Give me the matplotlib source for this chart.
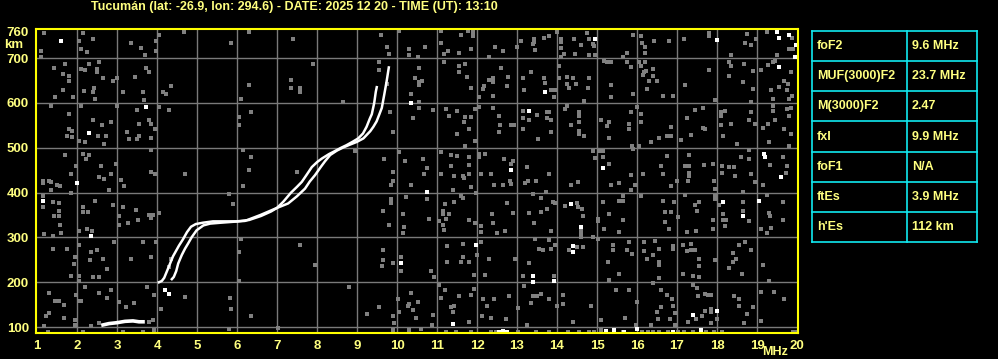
"""Ionogram - Tucuman 2025-12-20 13:10 UT."""
import numpy as np
import matplotlib
matplotlib.use("Agg")
import matplotlib.pyplot as plt

plt.rcParams["font.family"] = ["Liberation Sans", "DejaVu Sans"]
plt.rcParams["font.weight"] = "bold"

TITLE = "Tucumán (lat: -26.9, lon: 294.6) - DATE: 2025 12 20 - TIME (UT): 13:10"
YELLOW = "#ffff80"
CYAN = "#10e8f0"
GRID = "#7a7a7a"
SPECK = "#808080"

freq_ticks = list(range(1, 21))
height_ticks = [100, 200, 300, 400, 500, 600, 700]

# ordinary trace (F layer)
o_freq = [4.02, 4.12, 4.18, 4.24, 4.30, 4.40, 4.55, 4.65, 4.75, 4.85, 4.97, 5.15, 5.40,
          5.70, 6.00, 6.30, 6.60, 6.85, 7.00, 7.16, 7.35, 7.50, 7.62, 7.75, 7.87, 8.00,
          8.12, 8.30, 8.41, 8.60, 8.74, 8.90, 9.03, 9.15, 9.24, 9.32, 9.37, 9.43, 9.47, 9.50]
o_height = [199, 203, 210, 223, 236, 258, 282, 296, 312, 324, 330, 333, 336,
            336, 336, 339, 348, 358, 366, 380, 400, 413, 424, 441, 457, 468,
            476, 486, 491, 500, 506, 514, 521, 532, 547, 565, 575, 600, 625, 638]

# extraordinary trace
x_freq = [4.35, 4.42, 4.48, 4.53, 4.62, 4.70, 4.78, 4.87, 4.99, 5.16, 5.33, 5.60, 5.90,
          6.20, 6.58, 7.00, 7.28, 7.50, 7.70, 7.82, 7.95, 8.10, 8.20, 8.33, 8.50, 8.66,
          8.82, 8.99, 9.16, 9.33, 9.41, 9.49, 9.56, 9.62, 9.68, 9.74, 9.80]
x_height = [205, 212, 225, 242, 261, 275, 287, 301, 316, 327, 331, 333, 335,
            337, 350, 366, 376, 392, 409, 425, 439, 458, 470, 484, 494, 501,
            507, 513, 521, 537, 547, 559, 575, 589, 618, 648, 682]

# sporadic E
es_freq = [2.65, 2.80, 3.00, 3.20, 3.40, 3.55, 3.65]
es_height = [105, 108, 110, 113, 114, 112, 112]

# background interference specks (freq MHz, height km)
grey_specks = [
    (1.18, 756), (2.14, 756), (2.04, 739), (2.39, 743), (2.24, 714), (2.1, 720), (3.35, 734),
    (3.6, 722), (3.71, 707), (3.98, 739), (4.06, 752), (3.98, 717), (1.1, 717), (1.1, 702),
    (4.68, 758), (5.85, 734),
    (1.71, 687), (1.43, 677), (2.1, 676), (2.31, 688), (2.49, 676), (2.49, 670), (2.54, 692),
    (2.21, 673), (1.64, 665), (1.81, 661), (1.79, 650), (1.64, 630), (1.46, 613), (1.89, 613),
    (2.18, 626), (2.43, 633), (2.39, 624), (2.46, 609), (2.64, 656), (2.89, 648), (2.99, 656),
    (3.45, 657), (3.14, 625), (3.64, 625), (3.68, 607), (3.73, 677), (3.81, 670), (4.14, 625),
    (4.23, 620), (4.35, 637),
    (1.35, 594), (1.79, 576), (1.79, 542), (1.88, 538), (1.74, 527), (1.88, 524), (2.1, 594),
    (2.39, 563), (2.52, 526), (2.63, 551), (2.73, 527), (2.85, 558), (2.68, 509), (2.06, 515),
    (2.21, 514), (2.99, 593), (3.24, 536), (3.31, 520), (3.49, 520), (3.49, 585), (3.54, 526),
    (3.54, 553), (3.81, 561), (3.85, 553), (3.85, 522), (3.96, 541), (4.04, 590), (4.31, 585),
    (1.7, 484), (1.98, 460), (2.14, 487), (2.29, 485), (2.23, 474), (2.6, 460), (2.56, 434),
    (2.68, 431), (2.85, 442), (2.98, 464), (2.79, 405), (3.1, 429), (3.18, 414), (3.85, 496),
    (3.85, 447), (3.96, 442), (4.71, 442), (1.14, 427), (1.14, 422), (1.35, 423), (1.31, 427),
    (1.49, 418), (1.58, 414), (1.85, 442), (1.35, 407), (1.85, 399),
    (1.14, 393), (1.14, 369), (1.39, 379), (1.54, 377), (1.54, 360), (1.43, 349), (1.54, 349),
    (1.58, 327), (1.6, 310), (2.04, 315), (2.14, 367), (2.14, 356), (2.27, 356), (2.46, 382),
    (2.91, 373), (3.04, 349), (3.04, 327), (3.16, 369), (3.27, 333), (3.48, 362), (3.52, 338),
    (3.81, 350), (3.89, 350), (3.85, 343), (4.04, 355), (2.25, 319), (2.38, 314), (1.18, 308),
    (1.39, 304), (5.79, 396), (5.89, 375),
    (1.39, 275), (1.74, 275), (2.04, 284), (1.96, 256), (2.35, 267), (2.33, 249), (2.49, 273),
    (2.64, 252), (2.75, 230), (1.92, 241), (1.85, 214), (2.06, 215), (2.04, 204), (2.39, 211),
    (2.56, 211), (2.93, 290), (3.35, 251), (3.64, 290), (3.85, 256), (3.98, 290), (4.35, 252),
    (4.29, 234),
    (1.31, 176), (1.46, 159), (1.56, 159), (1.68, 150), (1.98, 171), (1.96, 117), (2.21, 189),
    (2.54, 176), (2.75, 165), (2.04, 159), (2.1, 159), (2.85, 183), (3.04, 156), (3.23, 145),
    (3.43, 154), (3.74, 189), (3.93, 172), (4.21, 182), (4.71, 167), (5.83, 165), (5.85, 140),
    (4.1, 140), (1.31, 132), (1.23, 126), (1.68, 120), (1.96, 104), (1.18, 102), (2.35, 102),
    (2.56, 110), (3.81, 111), (3.89, 115),
    (1.27, 89), (2.14, 90), (3.14, 89), (3.64, 89), (3.93, 93), (5.81, 96),
    (6.29, 759), (7.39, 743), (7.89, 687), (7.35, 652), (7.35, 633), (7.58, 633), (7.58, 625),
    (6.29, 640), (6.1, 609), (6.35, 581), (6.04, 568), (6.04, 550), (8.64, 603), (6.14, 496),
    (6.35, 479), (6.31, 451), (6.14, 414), (7.5, 447), (8.95, 492), (6.1, 297), (6.04, 267),
    (7.58, 284), (7.94, 239), (6.04, 204), (8.79, 189), (6.35, 126), (7.02, 99), (9.24, 130),
    (9.54, 145), (9.6, 752), (10.04, 761), (9.75, 724), (9.81, 709), (9.54, 691), (9.56, 674),
    (9.74, 642), (10.29, 720), (10.31, 707), (10.52, 702), (10.71, 724), (10.54, 677),
    (10.46, 655), (10.56, 646), (10.62, 648), (10.54, 639), (10.35, 620), (10.54, 603),
    (10.54, 588), (10.89, 585), (9.83, 581), (10.39, 566), (9.89, 536), (10.04, 490),
    (10.21, 471), (9.68, 474), (10.64, 474), (10.75, 454), (10.68, 442), (9.89, 446),
    (9.89, 427), (9.85, 417), (10.35, 417), (10.74, 385), (10.23, 391), (9.85, 386),
    (9.85, 377), (9.64, 360), (10.14, 353), (10.79, 341), (9.81, 328), (10.18, 324),
    (10.14, 310), (9.64, 273), (10.1, 256), (9.64, 249), (9.89, 243), (9.63, 237), (10.1, 226),
    (10.85, 226), (10.93, 211), (10.35, 177), (10.02, 163), (10.31, 152), (10.27, 147),
    (10.52, 156), (10.39, 139), (10.04, 133), (10.47, 120), (10.89, 127), (9.89, 124),
    (9.93, 110), (10.88, 105), (10.6, 96), (10.31, 93), (9.89, 93),
    (11.1, 761), (11.6, 752), (11.77, 761), (11.89, 758), (11.89, 749), (11.1, 734),
    (11.27, 717), (11.18, 709), (11.54, 711), (11.85, 720), (12.46, 724), (12.29, 702),
    (12.66, 717), (12.99, 724), (13.1, 739), (13.43, 743), (13.43, 736), (13.45, 719),
    (13.39, 732), (13.68, 744), (13.79, 749), (13.99, 758), (14.1, 743), (14.1, 736),
    (14.1, 722), (14.1, 702), (14.18, 709), (14.43, 743), (14.46, 709), (14.6, 729),
    (14.74, 756), (14.79, 743), (14.89, 732), (14.93, 728), (14.79, 707), (14.96, 707),
    (11.18, 692), (11.56, 683), (11.56, 670), (11.71, 687), (11.75, 657), (11.85, 633),
    (12.14, 631), (12.18, 637), (12.29, 652), (12.41, 655), (12.41, 646), (12.39, 616),
    (12.04, 613), (12.6, 678), (12.77, 659), (12.74, 637), (13.16, 655), (13.18, 629),
    (13.35, 670), (13.68, 655), (13.7, 645), (13.85, 630), (13.96, 630), (13.93, 613),
    (14.04, 683), (14.04, 655), (14.24, 657), (14.24, 642), (14.29, 633), (14.41, 655),
    (14.48, 642), (14.79, 655), (14.77, 633), (14.68, 605), (15.18, 694), (15.24, 691),
    (15.35, 691), (15.35, 639), (15.35, 613),
    (11.23, 587), (11.49, 583), (11.31, 570), (11.68, 557), (11.71, 568), (11.81, 542),
    (11.85, 568), (11.96, 587), (12.04, 590), (12.39, 588), (12.56, 572), (12.58, 551),
    (12.54, 536), (12.85, 550), (12.93, 550), (13.16, 583), (13.16, 566), (13.31, 563),
    (13.16, 542), (13.49, 573), (13.52, 520), (13.74, 581), (13.79, 581), (13.74, 566),
    (13.85, 561), (13.85, 536), (14.21, 587), (14.24, 594), (14.35, 550), (14.54, 579),
    (14.54, 572), (14.54, 557), (14.54, 531), (14.54, 538), (14.68, 527), (15.1, 563),
    (15.29, 557), (15.24, 548), (15.29, 523), (11.96, 516), (11.71, 505), (11.49, 531),
    (11.1, 490), (11.35, 483), (11.35, 459), (11.49, 481), (11.79, 479), (11.79, 462),
    (11.1, 442), (11.43, 438), (11.64, 438), (11.68, 432), (11.81, 442), (11.85, 412),
    (12.04, 486), (12.04, 479), (12.21, 486), (12.1, 442), (12.35, 442), (12.68, 475),
    (12.85, 464), (12.91, 471), (12.83, 427), (12.85, 420), (12.64, 417), (12.43, 417),
    (13.24, 457), (13.27, 427), (13.48, 427), (13.21, 422), (13.79, 442), (13.73, 402),
    (14.35, 417), (14.52, 423), (14.91, 494), (15.04, 492), (15.14, 492), (15.14, 479),
    (14.96, 477), (15.29, 464), (15.35, 416), (11.39, 405), (11.98, 399),
    (11.21, 375), (11.14, 360), (11.14, 352), (11.31, 352), (11.23, 341), (11.04, 336),
    (11.14, 327), (11.18, 316), (11.6, 393), (11.64, 387), (11.43, 379), (11.79, 338),
    (11.96, 333), (12.1, 325), (12.1, 312), (12.37, 353), (12.39, 333), (12.5, 310),
    (12.71, 315), (12.74, 377), (12.91, 355), (13.29, 355), (13.41, 396), (13.6, 388),
    (13.6, 356), (13.74, 364), (13.89, 380), (13.96, 377), (13.85, 315), (13.43, 333),
    (14.21, 370), (14.49, 377), (14.52, 367), (14.63, 364), (14.64, 347), (14.6, 301),
    (14.6, 308), (14.6, 315), (14.89, 301), (15.02, 336), (15.02, 341), (15.02, 297),
    (15.31, 353), (15.18, 319), (15.14, 379),
    (11.24, 281), (11.64, 286), (11.64, 256), (11.6, 245), (11.81, 246), (11.99, 260),
    (12.1, 290), (12.31, 252), (12.96, 252), (13.46, 297), (13.56, 275), (13.64, 271),
    (13.81, 295), (13.85, 275), (13.96, 284), (14.49, 278), (14.31, 273), (14.64, 278),
    (13.29, 243), (13.14, 214), (13.93, 215), (15.39, 284), (15.39, 271), (15.27, 245),
    (15.31, 206), (11.93, 217), (12.21, 217), (11.24, 245),
    (11.04, 193), (11.21, 184), (11.1, 165), (11.35, 145), (11.39, 133), (11.43, 147),
    (11.54, 169), (11.85, 172), (11.93, 185), (11.79, 111), (12.14, 163), (12.24, 148),
    (12.43, 163), (12.79, 169), (12.13, 125), (12.35, 120), (12.72, 119), (13.02, 142),
    (13.18, 191), (13.39, 169), (13.49, 169), (13.6, 173), (13.35, 154), (13.81, 162),
    (14.0, 147), (14.14, 172), (14.14, 152), (14.85, 148), (15.1, 115), (13.24, 105),
    (14.41, 111),
    (11.23, 90), (11.48, 90), (11.85, 90), (12.35, 89), (12.47, 90), (13.02, 90), (13.48, 89),
    (13.81, 90), (14.27, 89), (14.56, 90), (14.79, 89), (14.93, 89), (15.1, 93),
    (15.89, 752), (16.1, 749), (16.13, 734), (16.21, 724), (16.21, 711), (16.43, 739),
    (16.79, 739), (17.18, 743), (17.79, 756), (17.79, 750), (18.35, 706), (18.71, 734),
    (18.74, 754), (18.85, 729), (18.97, 743), (19.24, 758), (19.88, 746), (19.91, 720),
    (19.79, 720), (19.49, 706), (15.74, 711), (15.64, 702),
    (15.74, 692), (15.85, 680), (16.04, 691), (16.1, 682), (16.21, 692), (16.18, 668),
    (16.22, 672), (16.14, 662), (16.29, 648), (16.39, 676), (16.39, 661), (16.49, 648),
    (16.24, 631), (15.89, 620), (16.64, 616), (16.89, 616), (17.21, 640), (17.79, 674),
    (17.96, 607), (18.31, 691), (18.35, 683), (18.31, 661), (18.64, 646), (18.68, 687),
    (18.89, 672), (18.89, 631), (18.85, 603), (19.1, 674), (19.27, 685), (19.39, 691),
    (19.46, 694), (19.35, 630), (19.56, 635), (19.68, 648), (19.77, 642), (19.74, 628),
    (19.87, 616), (19.81, 609), (19.39, 609), (19.85, 670),
    (15.99, 590), (15.85, 581), (16.1, 576), (16.1, 558), (15.81, 553), (15.79, 543),
    (16.35, 512), (16.54, 523), (16.74, 527), (16.85, 546), (16.85, 527), (17.1, 518),
    (17.24, 566), (17.35, 529), (17.46, 585), (17.66, 588), (17.66, 544), (17.71, 541),
    (18.1, 581), (18.1, 570), (18.21, 583), (18.1, 550), (18.14, 527), (18.35, 553),
    (18.49, 509), (18.81, 561), (18.85, 581), (18.96, 553), (19.14, 544), (19.27, 553),
    (19.39, 593), (19.41, 583), (19.46, 563), (19.74, 587), (19.81, 572), (19.85, 588),
    (19.68, 542), (19.85, 531), (19.81, 505), (19.29, 512), (15.87, 503), (16.04, 505),
    (15.89, 497), (16.74, 481), (16.6, 460), (16.64, 442), (16.14, 442), (15.85, 440),
    (15.54, 422), (15.96, 417), (15.85, 405), (16.85, 414), (17.29, 484), (17.29, 444),
    (17.29, 437), (17.21, 460), (17.31, 460), (17.68, 462), (17.89, 464), (16.99, 427),
    (17.27, 427), (17.93, 427), (17.96, 408), (18.13, 460), (18.13, 444), (18.31, 457),
    (18.43, 457), (18.46, 438), (18.6, 479), (18.79, 496), (18.81, 474), (18.85, 442),
    (18.96, 423), (19.14, 417), (19.32, 462), (19.72, 444), (19.74, 460), (19.64, 479),
    (19.81, 503), (18.64, 402),
    (15.64, 393), (15.64, 382), (15.54, 382), (15.64, 338), (15.54, 312), (16.1, 393),
    (16.64, 382), (16.93, 379), (16.85, 356), (16.71, 356), (16.71, 334), (16.81, 319),
    (17.02, 345), (17.21, 395), (17.46, 373), (17.54, 379), (17.49, 358), (17.24, 313),
    (17.47, 315), (17.89, 340), (17.91, 320), (17.96, 385), (17.96, 392), (18.04, 373),
    (18.14, 353), (18.14, 338), (18.22, 338), (18.21, 325), (18.64, 379), (18.64, 358),
    (18.79, 336), (19.1, 319), (19.24, 395), (19.29, 355), (19.32, 347), (19.35, 321),
    (19.24, 310), (19.64, 338), (19.64, 380),
    (15.81, 290), (15.74, 271), (15.87, 263), (16.18, 290), (16.18, 269), (16.24, 252),
    (16.39, 260), (16.54, 275), (16.54, 245), (16.54, 238), (16.46, 293), (16.89, 282),
    (16.89, 275), (17.14, 284), (17.24, 269), (17.35, 271), (17.46, 271), (17.54, 252),
    (17.54, 236), (17.35, 286), (17.96, 249), (18.39, 266), (18.39, 245), (18.47, 252),
    (18.31, 232), (18.56, 284), (18.71, 290), (18.85, 271), (18.62, 219), (19.14, 239),
    (19.29, 204), (15.54, 219), (17.14, 219), (16.54, 209), (17.41, 215), (17.54, 211),
    (15.48, 182), (15.79, 182), (15.99, 157), (15.71, 120), (16.6, 184), (16.39, 199),
    (16.74, 172), (16.6, 145), (16.87, 162), (16.89, 148), (16.96, 132), (16.82, 118),
    (16.49, 133), (16.52, 119), (16.35, 105), (17.41, 193), (17.49, 187), (17.52, 169),
    (17.71, 174), (17.77, 171), (17.85, 171), (17.85, 141), (17.85, 134), (17.71, 135),
    (17.62, 124), (17.47, 119), (17.99, 119), (18.43, 169), (18.54, 162), (18.56, 148),
    (18.89, 145), (18.74, 130), (18.68, 110), (19.1, 113), (19.43, 178), (19.1, 178),
    (19.68, 162), (15.97, 105), (16.96, 105), (17.27, 111), (17.85, 110),
    (16.12, 90), (16.27, 90), (16.39, 89), (16.56, 89), (16.77, 90), (17.02, 90), (17.18, 89),
    (17.39, 90), (17.72, 90), (17.93, 89), (18.12, 90), (15.64, 89), (19.9, 90), (19.95, 90),
]

white_specks = [
    (1.6, 739), (2.31, 533), (3.73, 590), (1.99, 422), (1.14, 382), (2.35, 304), (4.29, 173),
    (4.2, 183), (10.35, 600), (10.74, 402), (10.1, 243), (14.95, 743), (13.7, 624),
    (13.29, 583), (12.85, 451), (15.14, 454), (14.35, 375), (14.6, 323), (11.98, 284),
    (14.39, 282), (14.39, 267), (13.39, 215), (13.39, 200), (13.93, 204), (11.39, 107),
    (12.56, 90), (12.64, 92), (12.74, 90), (15.22, 92), (15.43, 94), (17.99, 741),
    (19.49, 758), (19.54, 744), (19.81, 752), (19.98, 729), (19.96, 702), (19.54, 680),
    (19.18, 486), (19.21, 479), (19.6, 434), (18.14, 379), (18.64, 347), (19.04, 382),
    (17.39, 127), (17.99, 135), (15.68, 90), (15.99, 95), (16.89, 90), (17.6, 94),
]

param_names = ["foF2", "MUF(3000)F2", "M(3000)F2", "fxI", "foF1", "ftEs", "h'Es"]
param_values = ["9.6 MHz", "23.7 MHz", "2.47", "9.9 MHz", "N/A", "3.9 MHz", "112 km"]


W, H = 998, 359
fig = plt.figure(figsize=(W / 100, H / 100), dpi=100, facecolor="black")
ax = fig.add_axes([36 / W, 26 / H, 762 / W, 304 / H], facecolor="black")
ax.set_xlim(0.975, 20.025)
ax.set_ylim(87, 765)

for f in freq_ticks[1:-1]:
    ax.axvline(f, color=GRID, lw=1.0, zorder=1)
for h in height_ticks:
    ax.axhline(h, color=GRID, lw=1.0, zorder=1)

g = np.array(grey_specks)
ax.scatter(g[:, 0], g[:, 1], s=5, marker="s", color=SPECK, linewidths=0, zorder=2)
wsp = np.array(white_specks)
ax.scatter(wsp[:, 0], wsp[:, 1], s=5, marker="s", color="white", linewidths=0, zorder=3)

ax.plot(o_freq, o_height, color="white", lw=1.8, zorder=4, solid_capstyle="butt")
ax.plot(x_freq, x_height, color="white", lw=1.8, zorder=4, solid_capstyle="butt")
ax.plot(es_freq, es_height, color="white", lw=2.6, zorder=4)

ax.set_xticks(freq_ticks)
ax.set_xticklabels([str(f) for f in freq_ticks])
ax.set_yticks(height_ticks + [760])
ax.set_yticklabels([str(h) for h in height_ticks] + ["760"])
ax.tick_params(length=0, colors=YELLOW, labelsize=9.5, pad=5)
for lab in ax.get_xticklabels() + ax.get_yticklabels():
    lab.set_fontweight("bold")
for sp in ax.spines.values():
    sp.set_color("#ffff00")
    sp.set_linewidth(1.5)
    sp.set_zorder(6)

fig.text(14 / W, 1 - 45 / H, "km", color=YELLOW, fontsize=9.5, ha="center", va="center")
fig.text(775 / W, 1 - 352 / H, "MHz", color=YELLOW, fontsize=9, ha="center", va="center")
fig.text(294 / W, 1 - 7 / H, TITLE, color=YELLOW, fontsize=9, ha="center", va="center")

# parameter table
tab = fig.add_axes([812 / W, (H - 242.3) / H, 165 / W, 211.6 / H], facecolor="black")
tab.set_xlim(0, 1)
tab.set_ylim(0, len(param_names))
tab.axis("off")
n = len(param_names)
for i in range(n + 1):
    tab.axhline(i, color=CYAN, lw=1.2, clip_on=False)
for x in (0, 0.578, 1):
    tab.axvline(x, color=CYAN, lw=1.2, clip_on=False)
for i, (name, val) in enumerate(zip(param_names, param_values)):
    y = n - i - 0.5
    tab.text(0.03, y, name, color=YELLOW, fontsize=9, va="center", ha="left")
    tab.text(0.606, y, val, color=YELLOW, fontsize=9, va="center", ha="left")

fig.savefig("out.png", dpi=100, facecolor="black")
